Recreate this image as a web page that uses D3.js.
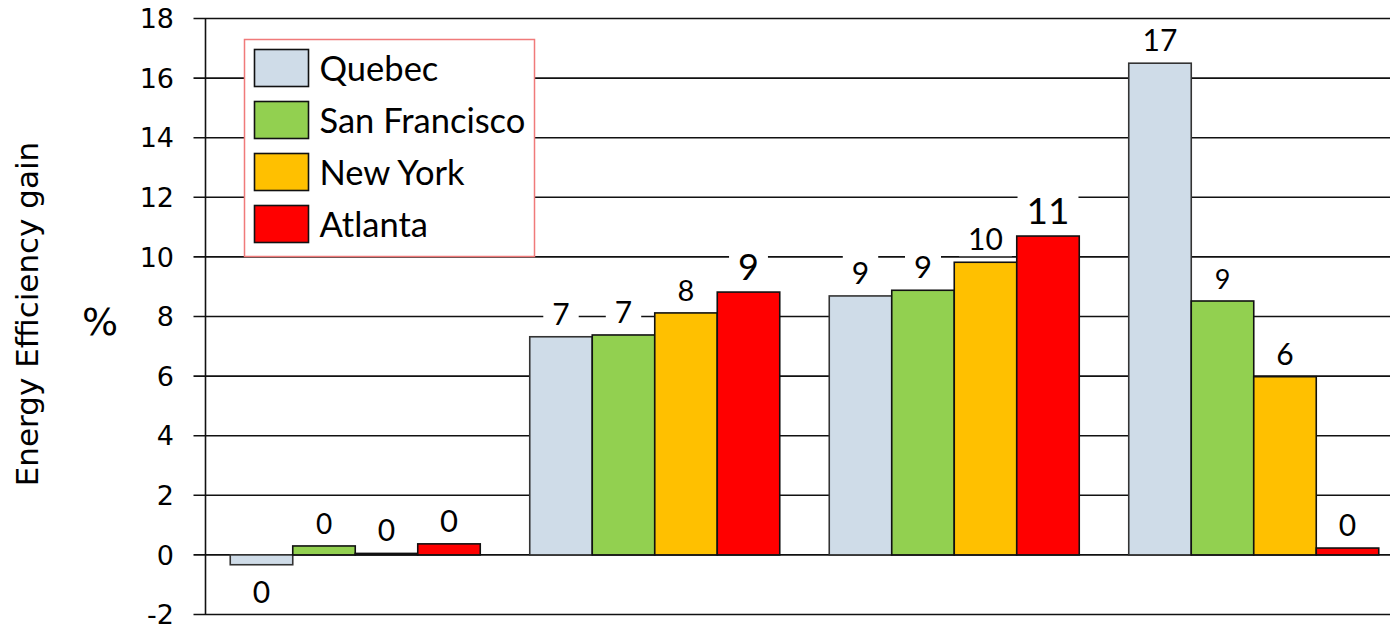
<!DOCTYPE html>
<html>
<head>
<meta charset="utf-8">
<script src="https://cdn.jsdelivr.net/npm/d3@7"></script>
<style>
  html, body { margin: 0; padding: 0; background: #fff; }
  svg { display: block; }
</style>
</head>
<body>
<svg id="chart" width="1390" height="628"></svg>
<script>
// Four climate cities, four cases each
const cases = ["Case 1", "Case 2", "Case 3", "Case 4"];
const cities = ["Quebec", "San Francisco", "New York", "Atlanta"];
const quebec = [-0.33, 7.32, 8.69, 16.5];
const sanFrancisco = [0.30, 7.38, 8.88, 8.52];
const newYork = [0.05, 8.12, 9.82, 5.98];
const atlanta = [0.37, 8.82, 10.70, 0.23];
const yTicks = [-2, 0, 2, 4, 6, 8, 10, 12, 14, 16, 18];

const seriesValues = [quebec, sanFrancisco, newYork, atlanta];
const colors = ["#cfdce8", "#92d050", "#ffc000", "#ff0000"];
const strokes = ["#333", "#111", "#111", "#111"];
// per-label font size (series x case)
const labelSizes = [
  [30, 30, 30, 30],
  [28, 30, 31, 27],
  [30, 29, 30, 30],
  [31, 36, 37, 30]
];

const svg = d3.select("#chart");
const plotLeft = 205.5, plotTop = 18.5, plotBottom = 614.5;
const step = 299.5;

const x0 = d3.scaleBand().domain(cases).range([plotLeft, plotLeft + step * cases.length]).padding(0);
const inner = 24.75;
const x1 = d3.scaleBand().domain(cities).range([inner, step - inner]).padding(0);
const y = d3.scaleLinear().domain([-2, 18]).range([plotBottom, plotTop]);

// horizontal gridlines with tick marks to the left of the axis
svg.append("g")
  .selectAll("line")
  .data(yTicks)
  .join("line")
  .attr("x1", plotLeft - 12)
  .attr("x2", 1390)
  .attr("y1", d => y(d))
  .attr("y2", d => y(d))
  .attr("stroke", "#111")
  .attr("stroke-width", 1.6);

// tick labels
svg.append("g")
  .selectAll("text")
  .data(yTicks)
  .join("text")
  .attr("x", 174)
  .attr("y", d => y(d))
  .attr("dy", "0.36em")
  .attr("text-anchor", "end")
  .attr("font-family", "DejaVu Sans, Verdana, sans-serif")
  .attr("font-size", 27)
  .attr("fill", "#000")
  .text(d => d);

// vertical axis line
svg.append("line")
  .attr("x1", plotLeft).attr("x2", plotLeft)
  .attr("y1", plotTop).attr("y2", plotBottom)
  .attr("stroke", "#111").attr("stroke-width", 1.6);

// axis titles
svg.append("text")
  .attr("transform", `translate(38,314) rotate(-90)`)
  .attr("text-anchor", "middle")
  .attr("font-family", "DejaVu Sans, Verdana, sans-serif")
  .attr("font-size", 31)
  .attr("fill", "#000")
  .text("Energy Efficiency gain");

svg.append("text")
  .attr("x", 100).attr("y", 335)
  .attr("text-anchor", "middle")
  .attr("font-family", "DejaVu Sans, Verdana, sans-serif")
  .attr("font-size", 38)
  .attr("fill", "#000")
  .text("%");

// bars
const barData = [];
seriesValues.forEach((vals, si) => {
  vals.forEach((v, ci) => {
    barData.push({ city: cities[si], si, ci, c: cases[ci], v, size: labelSizes[si][ci] });
  });
});

svg.append("g")
  .selectAll("rect")
  .data(barData)
  .join("rect")
  .attr("x", d => x0(d.c) + x1(d.city))
  .attr("width", x1.bandwidth())
  .attr("y", d => y(Math.max(0, d.v)))
  .attr("height", d => Math.max(1.5, Math.abs(y(d.v) - y(0))))
  .attr("fill", d => colors[d.si])
  .attr("stroke", d => strokes[d.si])
  .attr("stroke-width", 1.6);

// value labels with white backing
const labelG = svg.append("g");
barData.forEach(d => {
  const cx = x0(d.c) + x1(d.city) + x1.bandwidth() / 2;
  const by = d.v >= 0 ? y(d.v) - 12 : y(d.v) + 38;
  const g = labelG.append("g");
  const t = g.append("text")
    .attr("x", cx)
    .attr("y", by)
    .attr("text-anchor", "middle")
    .attr("font-family", "Lato, Carlito, Calibri, sans-serif")
    .attr("font-size", d.size)
    .attr("fill", "#000")
    .text(String(Math.round(d.v)));
  const bb = t.node().getBBox();
  g.insert("rect", "text")
    .attr("x", bb.x - 9)
    .attr("y", bb.y + 2)
    .attr("width", bb.width + 18)
    .attr("height", bb.height - 2)
    .attr("fill", "#fff");
});

// legend
const legend = svg.append("g").attr("transform", "translate(244.5,39.5)");
legend.append("rect")
  .attr("width", 290).attr("height", 217)
  .attr("fill", "#fff")
  .attr("stroke", "#f07a7a")
  .attr("stroke-width", 1.5);
cities.forEach((name, i) => {
  const row = legend.append("g").attr("transform", `translate(10,${10 + i * 52})`);
  row.append("rect")
    .attr("width", 54).attr("height", 37)
    .attr("fill", colors[i])
    .attr("stroke", "#111")
    .attr("stroke-width", 1.6);
  row.append("text")
    .attr("x", 65).attr("y", 19)
    .attr("dy", "0.36em")
    .attr("font-family", "Lato, Carlito, Calibri, sans-serif")
    .attr("font-size", 34.5)
    .attr("fill", "#000")
    .text(name);
});
</script>
</body>
</html>
